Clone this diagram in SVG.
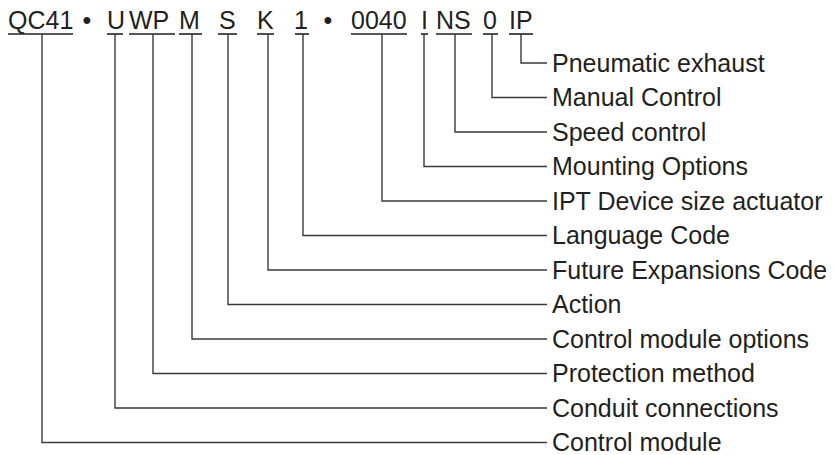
<svg xmlns="http://www.w3.org/2000/svg" width="833" height="455" viewBox="0 0 833 455">
<style>
text{font-family:"Liberation Sans",Arial,Helvetica,sans-serif;font-size:25px;fill:#231f20}
.ul{stroke:#231f20;stroke-width:1.6;fill:none}
.c{stroke:#3a3a3a;stroke-width:1.4;fill:none}
</style>
<rect width="833" height="455" fill="#fff"/>
<g id="code">
<g id="seg-qc41"><text x="8" y="29">QC41</text><line class="ul" x1="8" y1="34" x2="73" y2="34"/></g>
<g id="dot1"><text x="87" y="29" text-anchor="middle">•</text></g>
<g id="seg-u"><text x="107" y="29">U</text><line class="ul" x1="107" y1="34" x2="123" y2="34"/></g>
<g id="seg-wp"><text x="129" y="29">WP</text><line class="ul" x1="129" y1="34" x2="175" y2="34"/></g>
<g id="seg-m"><text x="179" y="29">M</text><line class="ul" x1="179" y1="34" x2="202" y2="34"/></g>
<g id="seg-s"><text x="219" y="29">S</text><line class="ul" x1="218" y1="34" x2="237" y2="34"/></g>
<g id="seg-k"><text x="257" y="29">K</text><line class="ul" x1="257" y1="34" x2="274" y2="34"/></g>
<g id="seg-1"><text x="294" y="29">1</text><line class="ul" x1="295" y1="34" x2="309" y2="34"/></g>
<g id="dot2"><text x="328" y="29" text-anchor="middle">•</text></g>
<g id="seg-0040"><text x="351" y="29">0040</text><line class="ul" x1="351" y1="34" x2="407" y2="34"/></g>
<g id="seg-i"><text x="421" y="29">I</text><line class="ul" x1="421" y1="34" x2="428" y2="34"/></g>
<g id="seg-ns"><text x="436" y="29">NS</text><line class="ul" x1="436" y1="34" x2="472" y2="34"/></g>
<g id="seg-0"><text x="483" y="29">0</text><line class="ul" x1="483" y1="34" x2="498" y2="34"/></g>
<g id="seg-ip"><text x="509" y="29">IP</text><line class="ul" x1="509" y1="34" x2="533" y2="34"/></g>
</g>
<g id="connectors">
<path class="c" d="M521 34V63H547"/>
<path class="c" d="M492 34V97.5H547"/>
<path class="c" d="M455 34V132H547"/>
<path class="c" d="M424 34V166.5H547"/>
<path class="c" d="M382 34V201H547"/>
<path class="c" d="M303 34V235.5H547"/>
<path class="c" d="M268 34V270H547"/>
<path class="c" d="M228 34V304.5H547"/>
<path class="c" d="M192 34V339H547"/>
<path class="c" d="M153 34V373.5H547"/>
<path class="c" d="M115 34V408H547"/>
<path class="c" d="M42 34V442.5H547"/>
</g>
<g id="labels">
<g id="lbl-pneumatic"><text x="552" y="71.5">Pneumatic exhaust</text></g>
<g id="lbl-manual"><text x="552" y="106">Manual Control</text></g>
<g id="lbl-speed"><text x="552" y="140.5">Speed control</text></g>
<g id="lbl-mounting"><text x="552" y="175">Mounting Options</text></g>
<g id="lbl-ipt"><text x="552" y="209.5">IPT Device size actuator</text></g>
<g id="lbl-language"><text x="552" y="244">Language Code</text></g>
<g id="lbl-future"><text x="552" y="278.5">Future Expansions Code</text></g>
<g id="lbl-action"><text x="552" y="313">Action</text></g>
<g id="lbl-cmo"><text x="552" y="347.5">Control module options</text></g>
<g id="lbl-protection"><text x="552" y="382">Protection method</text></g>
<g id="lbl-conduit"><text x="552" y="416.5">Conduit connections</text></g>
<g id="lbl-cm"><text x="552" y="451">Control module</text></g>
</g>
</svg>
